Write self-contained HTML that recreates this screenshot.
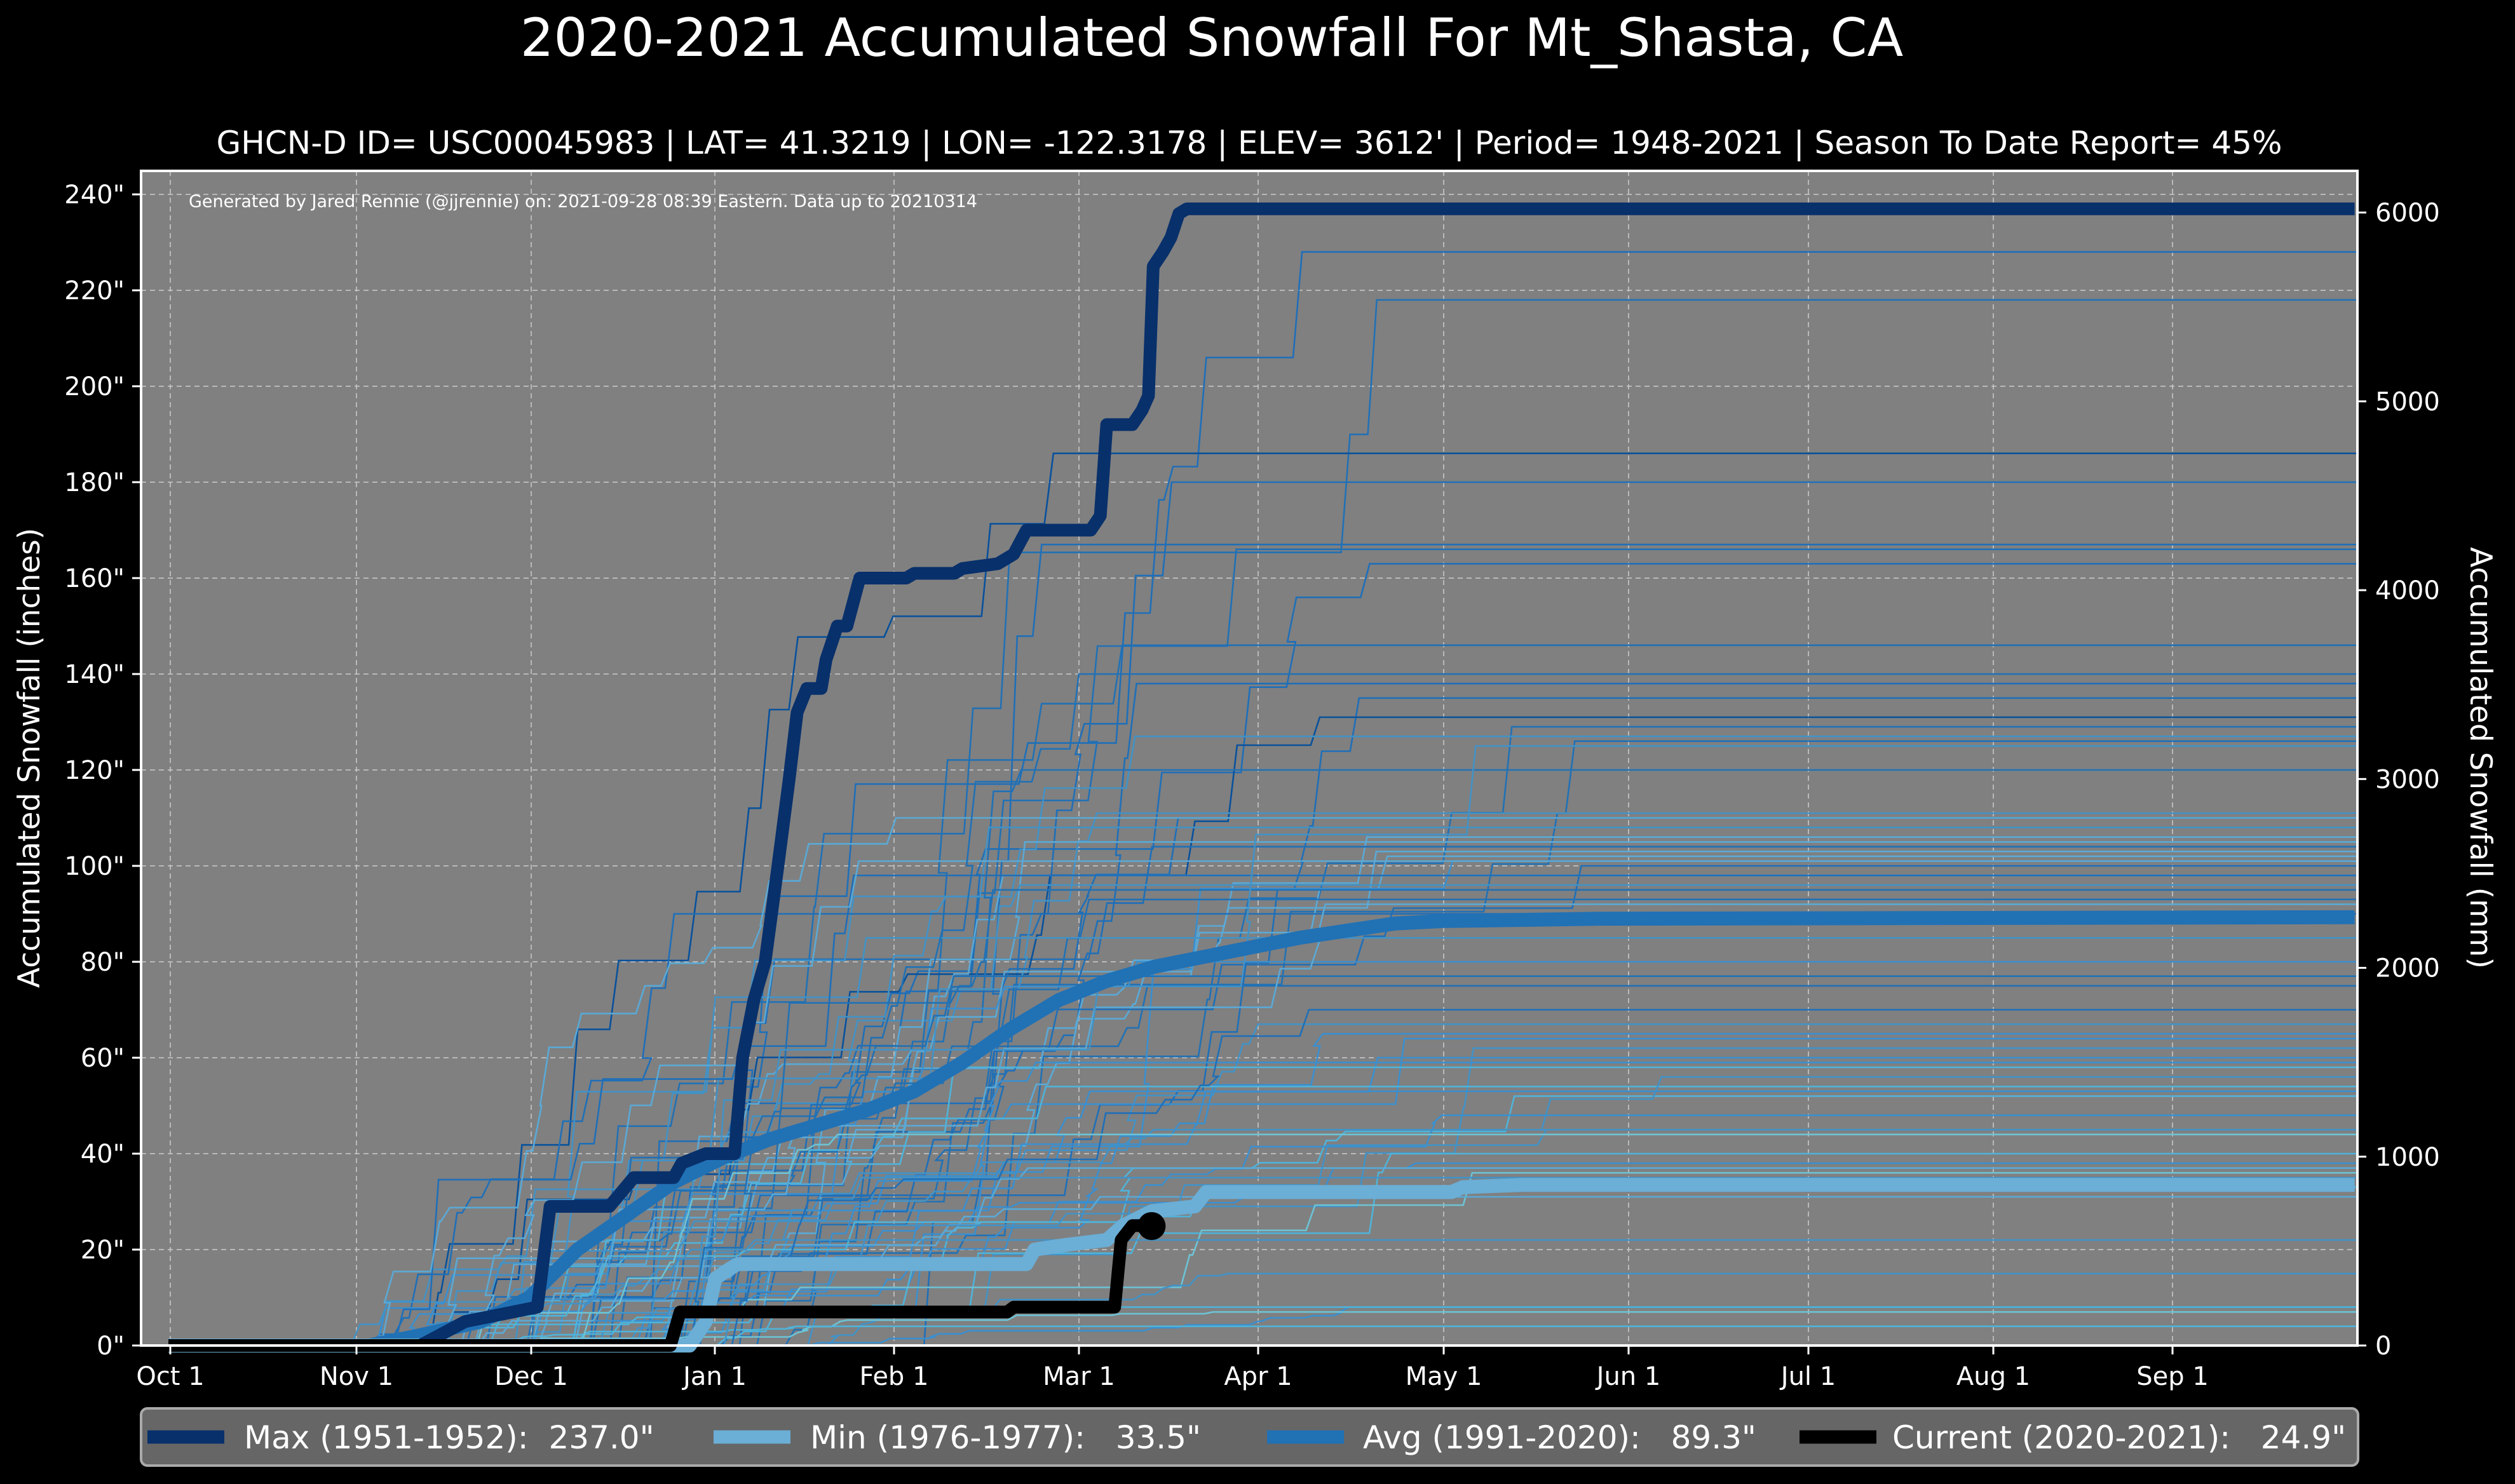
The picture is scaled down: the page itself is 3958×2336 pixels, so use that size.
<!DOCTYPE html>
<html><head><meta charset="utf-8"><style>
html,body{margin:0;padding:0;background:#000;}
svg{display:block;}
text{font-family:"DejaVu Sans","Liberation Sans",sans-serif;fill:#fff;}
</style></head><body>
<svg id="s" width="3958" height="2336" viewBox="0 0 3958 2336" xmlns="http://www.w3.org/2000/svg">
<rect width="3958" height="2336" fill="#000"/>
<text x="1907" y="88" font-size="83" text-anchor="middle">2020-2021 Accumulated Snowfall For Mt_Shasta, CA</text>
<text x="1966" y="242" font-size="50" text-anchor="middle">GHCN-D ID= USC00045983 | LAT= 41.3219 | LON= -122.3178 | ELEV= 3612' | Period= 1948-2021 | Season To Date Report= 45%</text>
<rect x="222" y="269" width="3488" height="1849" fill="#808080"/>
<g id="grid"></g>
<g id="thin"></g>
<g id="main"></g>
<rect x="222" y="269" width="3488" height="1849" fill="none" stroke="#fff" stroke-width="4"/>
<text x="297" y="326" font-size="27">Generated by Jared Rennie (@jjrennie) on: 2021-09-28 08:39 Eastern. Data up to 20210314</text>
<g id="ticks"></g>
<text transform="translate(62,1193) rotate(-90)" font-size="47" text-anchor="middle">Accumulated Snowfall (inches)</text>
<text transform="translate(3888,1193) rotate(90)" font-size="47" text-anchor="middle">Accumulated Snowfall (mm)</text>
<rect x="222" y="2217" width="3489" height="90" rx="10" fill="#666" stroke="#aaa" stroke-width="4"/>
<line x1="232" y1="2262" x2="353" y2="2262" stroke="#08306b" stroke-width="21"/>
<text x="384" y="2280" font-size="50" xml:space="preserve">Max (1951-1952):  237.0"</text>
<line x1="1123" y1="2262" x2="1244" y2="2262" stroke="#6baed6" stroke-width="21"/>
<text x="1275" y="2280" font-size="50" xml:space="preserve">Min (1976-1977):   33.5"</text>
<line x1="1994" y1="2262" x2="2115" y2="2262" stroke="#2171b5" stroke-width="21"/>
<text x="2145" y="2280" font-size="50" xml:space="preserve">Avg (1991-2020):   89.3"</text>
<line x1="2832" y1="2262" x2="2953" y2="2262" stroke="#000" stroke-width="21"/>
<text x="2978" y="2280" font-size="50" xml:space="preserve">Current (2020-2021):   24.9"</text>
</svg>
<script>
var NS="http://www.w3.org/2000/svg";
var K=3958/1568;
function Y(v){return 2118-v*7.55;}
function el(p,t,a,txt){var e=document.createElementNS(NS,t);for(var k in a)e.setAttribute(k,a[k]);if(txt!==undefined)e.textContent=txt;document.getElementById(p).appendChild(e);return e;}
var months=[["Oct 1",268],["Nov 1",561],["Dec 1",836],["Jan 1",1125],["Feb 1",1407],["Mar 1",1698],["Apr 1",1980],["May 1",2272],["Jun 1",2563],["Jul 1",2846],["Aug 1",3137],["Sep 1",3419]];
months.forEach(function(m){var x=m[1];
el("grid","line",{x1:x,y1:269,x2:x,y2:2118,stroke:"#c8c8c8","stroke-width":2,"stroke-dasharray":"8,6","opacity":0.8});
el("ticks","line",{x1:x,y1:2118,x2:x,y2:2132,stroke:"#fff","stroke-width":3});
el("ticks","text",{x:x,y:2180,"font-size":40,"text-anchor":"middle"},m[0]);});
for(var v=0;v<=240;v+=20){var y=Y(v);
if(v>0)el("grid","line",{x1:222,y1:y,x2:3710,y2:y,stroke:"#c8c8c8","stroke-width":2,"stroke-dasharray":"8,6","opacity":0.8});
el("ticks","line",{x1:208,y1:y,x2:222,y2:y,stroke:"#fff","stroke-width":3});
el("ticks","text",{x:196,y:y+14,"font-size":40,"text-anchor":"end"},v+'"');}
for(var mm=0;mm<=6000;mm+=1000){var y=Y(mm/25.4);
el("ticks","line",{x1:3710,y1:y,x2:3724,y2:y,stroke:"#fff","stroke-width":3});
el("ticks","text",{x:3738,y:y+14,"font-size":40},mm);}
var seed=12345;function r(){seed=(seed*1103515245+12345)%2147483648;return seed/2147483648;}
var finals=[228,218,186,180,167,166,163,146,138,135,131,129,127,126,120,111,110,108,106,105,104,103,102,101,100,98,96,95,93,90,85,80,77,75,67,65,64,62,60,59,58,54,53,52,48,45,40,38,37,36,35,33,31,22,15,8,8,7,4,98,101,92,70,56,44,110,125,140];
var cols=["#08519c","#2171b5","#1f6fb8","#4292c6","#3a8fcf","#5aa9d6","#4fb3d9","#6cc3d5"];
function XD(d){return 268+d*9.4;}
finals.forEach(function(f,i){
var n=6+Math.floor(r()*10),start=25+r()*70,end=start+60+r()*130;
var ev=[];for(var k=0;k<n;k++){ev.push([start+r()*(end-start),r()+0.15]);}
ev.sort(function(a,b){return a[0]-b[0];});var tot=ev.reduce(function(s,e){return s+e[1];},0);
var acc=0,d="M"+XD(-1)+","+Y(0);
ev.forEach(function(e){d+=" L"+XD(e[0]).toFixed(1)+","+Y(acc).toFixed(1);acc+=e[1]/tot*f;d+=" L"+XD(e[0]+1.5).toFixed(1)+","+Y(acc).toFixed(1);});
d+=" L3708,"+Y(f).toFixed(1);
var c=f>130?cols[Math.floor(r()*3)]:f>60?cols[1+Math.floor(r()*5)]:cols[3+Math.floor(r()*5)];
el("thin","path",{d:d,fill:"none",stroke:c,"stroke-width":2.6});});
function P(pts,c,w){var d="";pts.forEach(function(p,i){d+=(i?" L":"M")+(p[0]*K).toFixed(1)+","+Y(p[1]).toFixed(1);});
el("main","path",{d:d,fill:"none",stroke:c,"stroke-width":w,"stroke-linejoin":"round"});}
P([[105,0],[230,0],[260,2],[300,5],[330,10],[360,20],[390,27],[420,34],[450,39],[480,43],[510,46],[540,49],[570,53],[600,59],[630,66],[660,72],[690,76],[720,79],[750,81],[780,83],[810,85],[840,86.5],[870,88],[900,88.5],[1000,89],[1468,89.3]],"#2171b5",22);
P([[105,0],[430,0],[440,5],[446,14],[455,16],[460,17],[640,17],[645,20],[665,21],[690,22],[700,25],[718,28],[745,29],[752,32],[905,32],[912,33],[950,33.5],[1468,33.5]],"#6baed6",22);
P([[105,0],[262,0],[290,5],[335,8],[343,29],[380,29],[395,35],[420,35],[425,38],[440,40],[458,40],[463,60],[470,72],[477,80],[485,100],[492,118],[497,132],[503,137],[512,137],[515,143],[522,150],[528,150],[532,155],[536,160],[565,160],[570,161],[595,161],[600,162],[622,163],[632,165],[640,170],[680,170],[686,173],[690,192],[706,192],[712,195],[716,198],[719,225],[725,228],[730,231],[735,236],[740,237],[1468,237]],"#08306b",20);
P([[105,0],[418,0],[424,7],[628,7],[632,8],[695,8],[699,22],[706,25],[718,25]],"#000",20);
el("main","ellipse",{cx:718*K,cy:Y(24.9),rx:22,ry:22,fill:"#000"});
</script>
</body></html>
